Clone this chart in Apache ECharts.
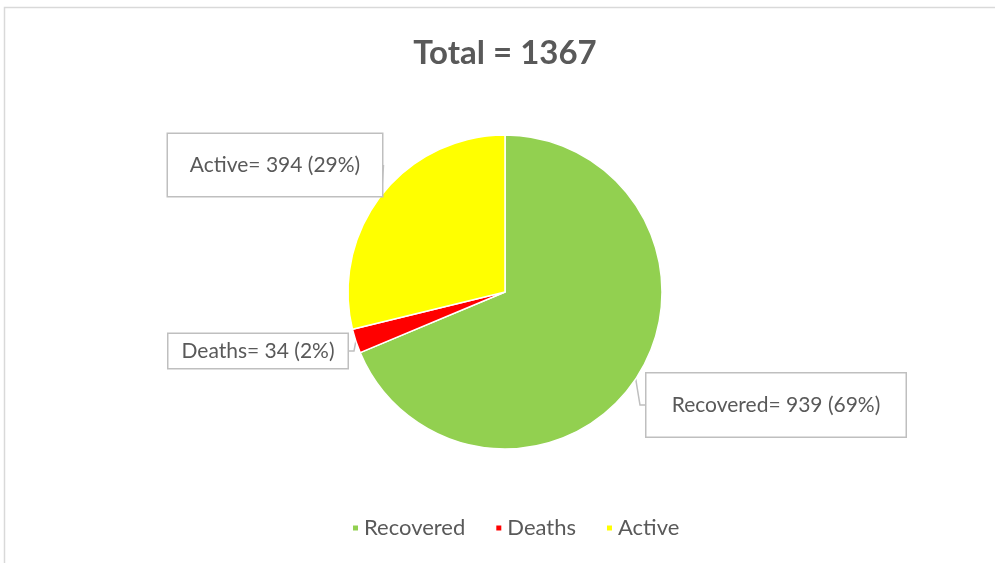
<!DOCTYPE html>
<html>
<head>
<meta charset="utf-8">
<script src="https://cdn.jsdelivr.net/npm/echarts@6/dist/echarts.min.js"></script>
<style>html,body{margin:0;padding:0;background:#fff;}#c{width:995px;height:563px;}</style>
</head>
<body>
<div id="c"></div>
<script>
var categories = ['Recovered', 'Deaths', 'Active'];
var values = [939, 34, 394];
var percents = ['69%', '2%', '29%'];
var titleText = 'Total = 1367';

var colors = ['#92D050', '#FF0000', '#FFFF00'];
// label box centers and sizes (layout, not data)
var boxLayout = [
  { x: 776, y: 405, w: 259, h: 63 },
  { x: 258, y: 351, w: 179, h: 34 },
  { x: 275, y: 165, w: 214, h: 62 }
];

var chart = echarts.init(document.getElementById('c'));
var FONT = 'Lato';
chart.setOption({
  backgroundColor: '#fff',
  title: {
    text: titleText,
    left: 500,
    textAlign: 'center',
    top: 32,
    textStyle: { fontFamily: FONT, fontSize: 33, fontWeight: 'bold', color: '#595959' }
  },
  graphic: [{
    type: 'rect',
    shape: { x: 4.5, y: 7.5, width: 1000, height: 600 },
    style: { fill: 'none', stroke: '#d9d9d9', lineWidth: 1.5 },
    silent: true, z: -10
  }],
  legend: {
    bottom: 19,
    left: 346,
    itemWidth: 7,
    itemHeight: 7,
    itemGap: 29,
    icon: 'rect',
    textStyle: { fontFamily: FONT, fontSize: 22, color: '#595959' },
    data: categories
  },
  series: [{
    type: 'pie',
    center: [505, 292],
    radius: 157,
    startAngle: 90,
    clockwise: true,
    animation: false,
    itemStyle: { borderColor: '#fff', borderWidth: 1.5 },
    data: categories.map(function (c, i) {
      return {
        name: c,
        value: values[i],
        itemStyle: { color: colors[i] },
        label: { width: boxLayout[i].w, height: boxLayout[i].h }
      };
    }),
    label: {
      show: true,
      position: 'outside',
      formatter: function (p) { return p.name + '= ' + p.value + ' (' + percents[p.dataIndex] + ')'; },
      fontFamily: FONT,
      fontSize: 21,
      color: '#595959',
      backgroundColor: '#fff',
      borderColor: '#BFBFBF',
      borderWidth: 1.5,
      align: 'center',
      verticalAlign: 'middle',
      lineHeight: 24,
      padding: 0
    },
    labelLine: {
      show: true,
      length: 5,
      length2: 5,
      lineStyle: { color: '#BFBFBF', width: 1.5 }
    },
    labelLayout: function (p) {
      var b = boxLayout[p.dataIndex];
      return { x: b.x, y: b.y, align: 'center', verticalAlign: 'middle' };
    }
  }]
});
</script>
</body>
</html>
